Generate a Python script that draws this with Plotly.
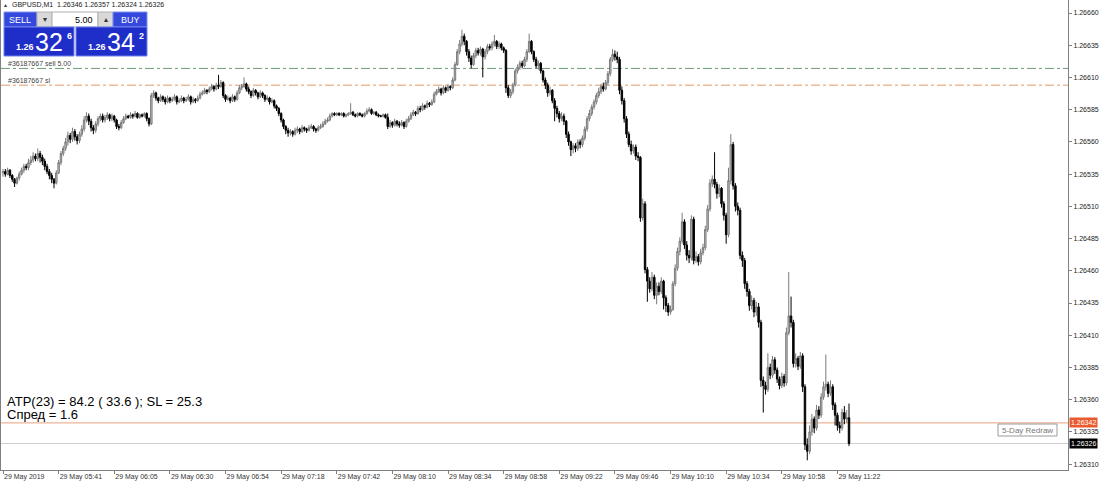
import plotly.graph_objects as go

# ---- data (prices in points: 1.26 + v/100000) ----
OPEN = [
536,537,535,538,534,531,528,532,535,538, 541,540,544,546,549,547,551,548,545,541,
537,534,531,528,536,544,551,555,560,565, 562,568,564,561,566,570,577,580,576,571,
569,574,578,580,577,579,581,578,580,577, 572,571,575,578,580,579,581,580,582,579,
581,580,582,578,574,596,598,594,592,595, 593,591,594,592,593,595,591,592,594,592,
593,595,591,593,592,594,597,598,600,599, 601,603,601,604,603,606,596,593,594,592,
595,593,598,602,603,605,601,599,596,600, 598,595,598,596,593,594,591,592,588,586,
582,577,572,569,567,568,566,569,570,568, 571,570,569,571,572,570,569,571,572,574,
576,577,580,582,581,582,581,582,580,581, 582,583,581,580,582,581,580,582,584,585,
582,583,581,580,580,581,579,572,575,573, 576,574,573,575,572,576,578,581,583,582,
586,585,588,587,590,589,591,597,599,601, 598,602,600,603,602,608,620,630,636,642,
638,630,625,620,627,631,629,632,626,630, 634,633,636,638,634,636,633,631,602,596,
599,604,615,618,621,619,624,630,638,630, 624,619,621,615,608,604,598,600,592,586,
582,578,580,576,566,560,554,557,555,560, 558,563,570,578,582,587,591,596,599,603,
601,606,613,624,628,626,624,600,592,578, 566,558,553,556,549,548,501,512,461,452,
446,455,441,448,444,452,439,433,428,430, 450,462,475,483,498,480,472,470,500,468,
471,467,474,478,492,508,528,531,527,520, 524,512,503,488,530,558,526,510,507,472,
468,450,444,433,437,428,432,420,375,371, 368,385,379,391,383,376,371,378,373,412,
425,420,388,392,386,394,370,325,320,335, 345,338,352,348,362,370,372,365,370,356,
348,340,338,350,345,346]
HIGH = [
539,539,540,539,535,532,533,537,540,543, 543,547,549,552,551,555,553,550,547,543,
539,536,532,538,546,553,557,563,568,567, 571,570,566,568,573,580,583,582,578,573,
576,580,582,582,581,583,582,582,581,578, 574,577,580,582,581,583,582,584,583,582,
582,583,583,579,598,600,599,595,597,596, 595,596,595,595,597,596,594,596,595,595,
597,596,595,594,596,599,600,602,601,603, 605,604,606,612,608,607,597,596,595,597,
596,600,604,605,610,606,603,600,602,601, 599,600,599,597,596,595,594,593,589,587,
583,578,573,571,570,569,571,572,571,573, 572,571,573,574,573,571,573,574,576,578,
579,582,583,583,583,583,583,583,582,583, 590,584,582,583,583,582,583,586,587,586,
584,584,582,581,582,582,582,577,576,578, 577,576,577,576,578,580,583,585,584,588,
588,590,589,592,591,593,599,601,603,602, 604,603,605,604,610,622,632,639,647,644,
639,632,627,629,633,633,634,633,632,636, 636,638,643,639,638,637,634,632,604,601,
606,617,620,623,623,626,632,644,639,631, 626,623,622,616,610,606,603,601,594,588,
584,583,582,577,568,561,559,559,562,562, 565,572,580,585,589,593,598,602,605,606,
608,615,626,632,631,630,626,603,594,580, 568,561,558,558,552,549,516,514,463,455,
459,457,451,451,455,453,441,435,433,452, 465,478,486,505,500,483,476,503,502,475,
473,477,481,495,511,531,534,552,529,527, 525,514,505,540,566,560,528,513,509,475,
470,452,446,441,439,436,435,422,378,374, 396,388,394,393,385,378,381,380,416,459,
440,422,396,394,397,396,372,330,340,349, 347,356,355,365,374,395,374,375,372,358,
350,343,353,355,352,357]
LOW = [
533,533,534,532,529,525,527,530,534,536, 538,538,542,544,545,545,544,542,538,535,
531,528,524,527,535,542,549,553,557,559, 560,561,558,559,564,568,575,573,568,566,
567,572,576,575,575,577,576,576,575,570, 569,570,574,577,578,578,578,579,578,578,
579,579,576,572,573,594,592,590,591,591, 589,590,590,591,592,589,590,591,590,591,
592,589,590,590,591,593,596,597,597,598, 600,599,600,601,602,594,591,592,590,591,
591,592,597,600,602,599,597,594,595,596, 593,594,594,591,592,589,590,586,584,580,
575,570,566,564,565,564,565,567,566,567, 568,567,568,570,568,567,568,570,571,573,
575,576,579,580,580,580,580,579,579,580, 581,580,579,579,580,579,579,581,583,581,
581,580,579,579,579,578,570,571,571,572, 572,571,572,570,571,575,577,580,580,581,
583,584,585,586,587,588,590,596,598,596, 597,598,599,600,601,607,619,628,634,635,
627,622,617,619,625,627,627,610,624,628, 631,631,634,632,632,631,629,598,594,594,
597,603,613,616,617,618,622,629,628,622, 617,616,613,606,601,595,596,590,576,579,
575,576,573,563,557,549,551,552,553,555, 556,561,568,576,580,585,589,594,597,599,
600,604,611,622,623,621,597,589,575,563, 556,550,551,546,545,498,499,458,436,443,
444,438,434,441,442,430,428,425,426,429, 448,460,472,481,477,468,466,468,465,466,
464,465,472,476,490,506,525,524,516,517, 509,499,481,486,527,523,506,503,469,463,
446,440,429,430,424,425,416,370,350,364, 366,376,377,380,373,368,369,370,371,410,
416,385,385,383,384,366,321,313,318,332, 334,336,345,346,360,367,362,363,352,340,
336,334,336,341,342,324]
CLOSE = [
537,535,538,534,531,528,532,535,538,541, 540,544,546,549,547,551,548,545,541,537,
534,531,528,536,544,551,555,560,565,562, 568,564,561,566,570,577,580,576,571,569,
574,578,580,577,579,581,578,580,577,572, 571,575,578,580,579,581,580,582,579,581,
580,582,578,574,596,598,594,592,595,593, 591,594,592,593,595,591,592,594,592,593,
595,591,593,592,594,597,598,600,599,601, 603,601,604,603,606,596,593,594,592,595,
593,598,602,603,605,601,599,596,600,598, 595,598,596,593,594,591,592,588,586,582,
577,572,569,567,568,566,569,570,568,571, 570,569,571,572,570,569,571,572,574,576,
577,580,582,581,582,581,582,580,581,582, 583,581,580,582,581,580,582,584,585,582,
583,581,580,580,581,579,572,575,573,576, 574,573,575,572,576,578,581,583,582,586,
585,588,587,590,589,591,597,599,601,598, 602,600,603,602,608,620,630,636,642,638,
630,625,620,627,631,629,632,626,630,634, 633,636,638,634,636,633,631,602,596,599,
604,615,618,621,619,624,630,638,630,624, 619,621,615,608,604,598,600,592,586,582,
578,580,576,566,560,554,557,555,560,558, 563,570,578,582,587,591,596,599,603,601,
606,613,624,628,626,624,600,592,578,566, 558,553,556,549,548,501,512,461,452,446,
455,441,448,444,452,439,433,428,430,450, 462,475,483,498,480,472,470,500,468,471,
467,474,478,492,508,528,531,527,520,524, 512,503,488,530,558,526,510,507,472,468,
450,444,433,437,428,432,420,375,371,368, 385,379,391,383,376,371,378,373,412,425,
420,388,392,386,394,370,325,320,335,345, 338,352,348,362,370,372,365,370,356,348,
340,338,350,345,346,326]

TIME_LABELS = ["29 May 2019", "29 May 05:41", "29 May 06:05", "29 May 06:30", "29 May 06:54",
               "29 May 07:18", "29 May 07:42", "29 May 08:10", "29 May 08:34", "29 May 08:58",
               "29 May 09:22", "29 May 09:46", "29 May 10:10", "29 May 10:34", "29 May 10:58",
               "29 May 11:22"]
BARS_PER_LABEL = 24

ENTRY_PRICE = 1.26617
SL_PRICE = 1.26604
ASK_PRICE = 1.26342
BID_PRICE = 1.26326
SYMBOL_HEADER = "GBPUSD,M1  1.26346 1.26357 1.26324 1.26326"
LOT = "5.00"
SELL_PRICE = ("1.26", "32", "6")
BUY_PRICE = ("1.26", "34", "2")
INFO_LINE1 = "ATP(23) = 84.2 ( 33.6 ); SL = 25.3"
INFO_LINE2 = "Спред = 1.6"

BASE = 1.26
SCALE = 100000.0

def px(v):
    return [BASE + a / SCALE for a in v]

idx = list(range(len(CLOSE)))
FONT = "Liberation Sans, Arial, sans-serif"

fig = go.Figure()
fig.add_trace(go.Candlestick(
    x=idx, open=px(OPEN), high=px(HIGH), low=px(LOW), close=px(CLOSE),
    increasing=dict(line=dict(color="#7a7a7a", width=1), fillcolor="#c4c4c4"),
    decreasing=dict(line=dict(color="#000000", width=1), fillcolor="#000000"),
    whiskerwidth=0, hoverinfo="skip", showlegend=False))

W, H = 1100, 490
ML, MR, MT, MB = 1, 32, 0, 20
PW, PH = W - ML - MR, H - MT - MB

def xp(p):  # pixel -> paper
    return (p - ML) / PW

def yp(p):
    return 1 - (p - MT) / PH

shapes = []
annotations = []

# price lines
for price, color, dash in [(ENTRY_PRICE, "#6f9a7c", "dashdot"), (SL_PRICE, "#e39a6a", "dashdot"),
                           (ASK_PRICE, "#e8a07a", "solid"), (BID_PRICE, "#cfcfcf", "solid")]:
    shapes.append(dict(type="line", xref="paper", yref="y", x0=0, x1=1, y0=price, y1=price,
                       line=dict(color=color, width=1, dash=dash), layer="below"))

def rect(x0, y0, x1, y1, fill, line="rgba(0,0,0,0)"):
    shapes.append(dict(type="rect", xref="paper", yref="paper", x0=xp(x0), x1=xp(x1),
                       y0=yp(y1), y1=yp(y0), fillcolor=fill, line=dict(color=line, width=1),
                       layer="above"))

def text(x, y, s, size, color="#000", anchor="left", bold=False, vanchor="middle", **kw):
    if bold:
        s = "<b>" + s + "</b>"
    annotations.append(dict(xref="paper", yref="paper", x=xp(x), y=yp(y), text=s, showarrow=False,
                            xanchor=anchor, yanchor=vanchor,
                            font=dict(family=FONT, size=size, color=color), **kw))

# one-click panel
rect(4, 12, 37, 27, "#3448dc", "#8090f0")
rect(37, 12, 52, 27, "#d9d9d9", "#b0b0b0")
rect(52, 12, 98, 27, "#ffffff", "#b0b0b0")
rect(98, 12, 113, 27, "#d9d9d9", "#b0b0b0")
rect(113, 12, 147, 27, "#3448dc", "#8090f0")
rect(4, 27, 74, 56, "#1f2ec8", "#7080f0")
rect(76, 27, 147, 56, "#1f2ec8", "#7080f0")
text(20, 20, "SELL", 9, "#ffffff", "center")
text(130, 20, "BUY", 9, "#ffffff", "center")
text(44.5, 19.5, "▾", 8, "#333333", "center")
text(105.5, 19.5, "▴", 8, "#333333", "center")
text(95, 20, LOT, 9, "#000000", "right")
for (x0, p) in [(14, SELL_PRICE), (86, BUY_PRICE)]:
    text(x0, 47, p[0], 9, "#ffffff", "left", bold=True)
    text(x0 + 19, 42, p[1], 25, "#ffffff", "left")
    text(x0 + 51, 36, p[2], 9, "#ffffff", "left", bold=True)

# header and order labels
text(1, 5, "▲", 5, "#333333", "left")
text(10, 5, SYMBOL_HEADER, 7, "#222222", "left")
text(6, 64, "#36187667 sell 5.00", 7, "#444444", "left")
text(6, 80, "#36187667 sl", 7, "#444444", "left")

# info text (two tightly stacked lines, as in the terminal)
text(6, 401, INFO_LINE1, 13, "#000000", "left", borderpad=0)
text(6, 414, INFO_LINE2, 13, "#000000", "left", borderpad=0)

# 5-Day Redraw button
rect(998, 424, 1057, 436, "#ffffff", "#9a9a9a")
text(1027.5, 430, "5-Day Redraw", 8, "#777777", "center")

# right price tags
annotations.append(dict(xref="paper", yref="y", x=1, y=ASK_PRICE, text="%.5f" % ASK_PRICE,
                        showarrow=False, xanchor="left", yanchor="middle", xshift=1,
                        bgcolor="#ea5a2e", borderpad=1,
                        font=dict(family=FONT, size=7, color="#ffffff")))
annotations.append(dict(xref="paper", yref="y", x=1, y=BID_PRICE, text="%.5f" % BID_PRICE,
                        showarrow=False, xanchor="left", yanchor="middle", xshift=1,
                        bgcolor="#000000", borderpad=1,
                        font=dict(family=FONT, size=7, color="#ffffff")))

x_lo = -2 / 2.32
x_hi = (PW - 1) / 2.32
y_lo = BASE + (660 - (470 - 13) / 1.289) / SCALE
y_hi = BASE + (660 + 13 / 1.289) / SCALE

fig.update_layout(
    width=W, height=H, margin=dict(l=ML, r=MR, t=MT, b=MB, pad=0),
    paper_bgcolor="#ffffff", plot_bgcolor="#ffffff",
    font=dict(family=FONT, size=7, color="#222222"),
    shapes=shapes, annotations=annotations, showlegend=False,
    boxgap=0.1,
    xaxis=dict(range=[x_lo, x_hi], rangeslider=dict(visible=False), showgrid=False, zeroline=False,
               tickvals=[i * BARS_PER_LABEL for i in range(len(TIME_LABELS))], ticktext=TIME_LABELS,
               ticks="outside", ticklen=3, tickcolor="#808080", ticklabelposition="outside right",
               showline=True, linecolor="#808080", linewidth=1,
               tickfont=dict(family=FONT, size=7, color="#333333")),
    yaxis=dict(range=[y_lo, y_hi], side="right", showgrid=False, zeroline=False,
               tick0=1.2631, dtick=0.00025, tickformat=".5f",
               ticks="outside", ticklen=3, tickcolor="#808080",
               showline=True, mirror=True, linecolor="#808080", linewidth=1,
               tickfont=dict(family=FONT, size=7, color="#222222")),
)

fig.write_html("out.html", config={"displayModeBar": False},
               post_script="document.body.style.margin='0';")
